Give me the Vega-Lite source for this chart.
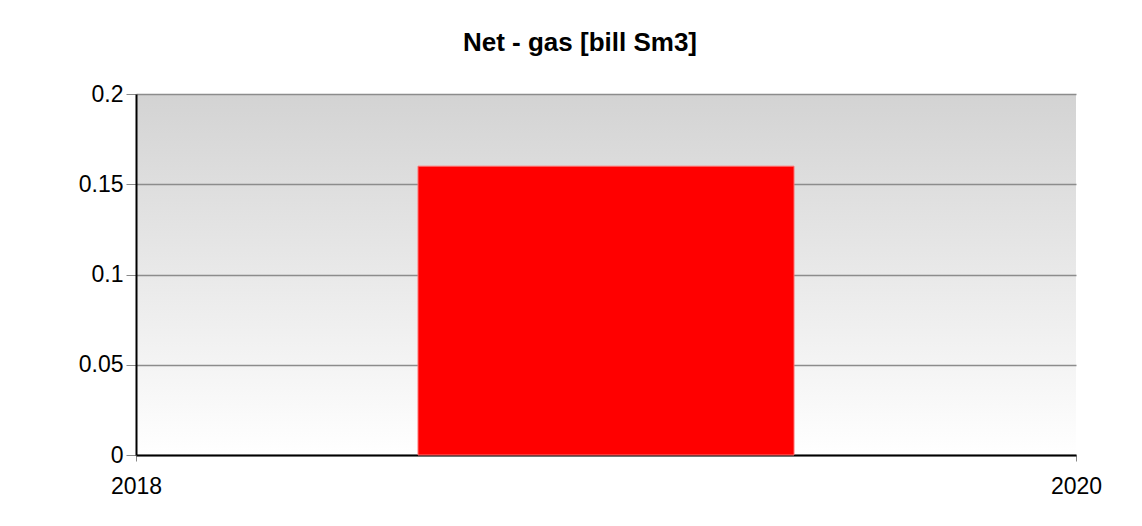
{
  "$schema": "https://vega.github.io/schema/vega-lite/v6.json",
  "width": 940,
  "height": 361,
  "autosize": {"type": "none"},
  "padding": {"left": 136, "top": 94, "right": 66, "bottom": 71},
  "background": "#ffffff",
  "title": {
    "text": "Net - gas [bill Sm3]",
    "anchor": "middle",
    "frame": "group",
    "dx": -26,
    "offset": 27,
    "font": "Liberation Sans",
    "fontSize": 26,
    "fontWeight": "bold",
    "color": "#000000"
  },
  "view": {
    "stroke": null,
    "fill": {
      "gradient": "linear",
      "x1": 0, "y1": 0, "x2": 0, "y2": 1,
      "stops": [
        {"offset": 0, "color": "#d3d3d3"},
        {"offset": 1, "color": "#ffffff"}
      ]
    }
  },
  "data": {
    "values": [
      {"start": 2018.6, "end": 2019.4, "value": 0.16}
    ]
  },
  "mark": {"type": "bar", "color": "#ff0000", "stroke": "#ff7070", "strokeWidth": 1},
  "encoding": {
    "x": {
      "field": "start",
      "type": "quantitative",
      "scale": {"domain": [2018, 2020], "nice": false, "zero": false},
      "axis": {
        "title": null,
        "values": [2018, 2020],
        "format": "d",
        "grid": false,
        "domainColor": "#000000",
        "domainWidth": 2,
        "tickColor": "#888888",
        "tickSize": 6,
        "labelPadding": 14,
        "labelFont": "Liberation Sans",
        "labelFontSize": 23,
        "labelColor": "#000000",
        "labelFlush": false,
        "labelOverlap": false
      }
    },
    "x2": {"field": "end"},
    "y": {
      "field": "value",
      "type": "quantitative",
      "scale": {"domain": [0, 0.2], "nice": false},
      "axis": {
        "title": null,
        "values": [0, 0.05, 0.1, 0.15, 0.2],
        "format": "~g",
        "grid": true,
        "gridColor": "#8c8c8c",
        "gridWidth": 1.5,
        "domainColor": "#000000",
        "domainWidth": 2,
        "tickColor": "#888888",
        "tickSize": 10,
        "labelPadding": 3,
        "labelFont": "Liberation Sans",
        "labelFontSize": 23,
        "labelColor": "#000000",
        "labelFlush": false,
        "labelOverlap": false
      }
    },
    "y2": {"datum": 0}
  }
}
